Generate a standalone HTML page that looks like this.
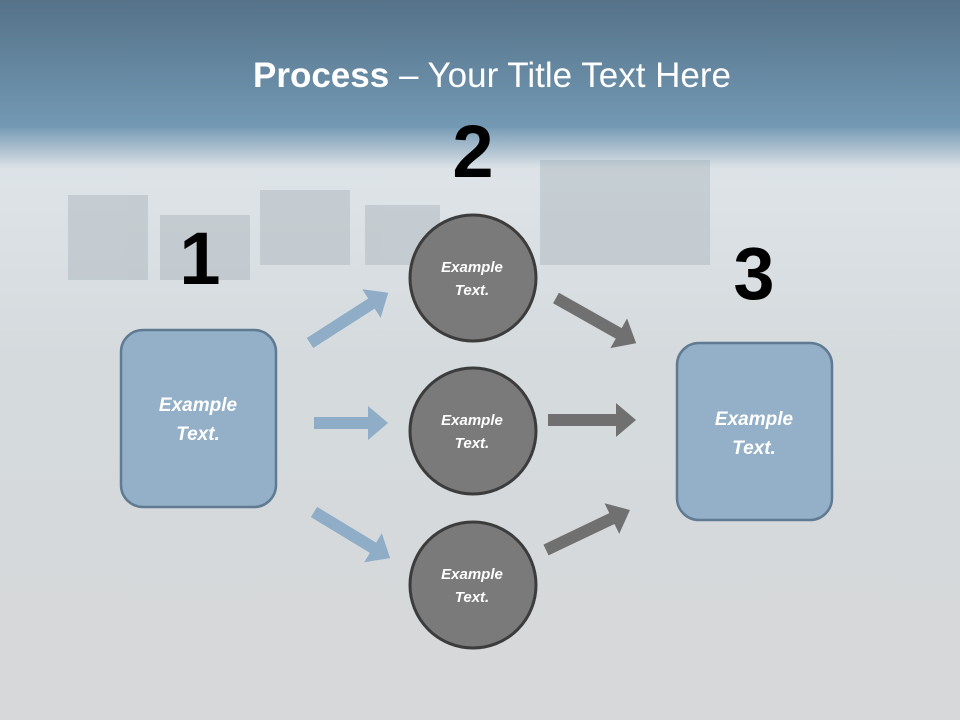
<!DOCTYPE html>
<html><head><meta charset="utf-8"><style>
html,body{margin:0;padding:0;}
body{width:960px;height:720px;overflow:hidden;font-family:"Liberation Sans",sans-serif;}
</style></head><body>
<svg width="960" height="720" viewBox="0 0 960 720" xmlns="http://www.w3.org/2000/svg">
<defs>
<linearGradient id="hdr" x1="0" y1="0" x2="0" y2="1">
<stop offset="0" stop-color="#557289"/><stop offset="1" stop-color="#7399b4"/></linearGradient>
<linearGradient id="fade" x1="0" y1="0" x2="0" y2="1">
<stop offset="0" stop-color="#7a9db7"/><stop offset="1" stop-color="#7a9db7" stop-opacity="0"/></linearGradient>
<linearGradient id="bg" x1="0" y1="0" x2="0" y2="1">
<stop offset="0" stop-color="#c5d3dd"/><stop offset="0.25" stop-color="#dde3e7"/><stop offset="0.5" stop-color="#d5dadd"/><stop offset="1" stop-color="#d6d8d9"/></linearGradient>
</defs>
<rect width="960" height="720" fill="url(#bg)"/>
<g fill="#a9b3ba" opacity="0.45">
<rect x="68" y="195" width="80" height="85"/>
<rect x="160" y="215" width="90" height="65"/>
<rect x="260" y="190" width="90" height="75"/>
<rect x="365" y="205" width="75" height="60"/>
<rect x="540" y="160" width="170" height="105"/>
</g>
<rect width="960" height="128" fill="url(#hdr)"/>
<rect y="128" width="960" height="40" fill="url(#fade)"/>
<text x="492" y="87" text-anchor="middle" fill="#fff" font-size="35"><tspan font-weight="bold">Process</tspan> – Your Title Text Here</text>

<g fill="#8fadc6">
<polygon transform="translate(310,343) rotate(-32.7)" points="0,-6 73,-6 73,-17 93,0 73,17 73,6 0,6"/>
<polygon transform="translate(314,423)" points="0,-6 54,-6 54,-17 74,0 54,17 54,6 0,6"/>
<polygon transform="translate(314,512) rotate(31.2)" points="0,-6 69,-6 69,-17 89,0 69,17 69,6 0,6"/>
</g>
<g fill="#707070">
<polygon transform="translate(556,298) rotate(29.4)" points="0,-6 72,-6 72,-17 92,0 72,17 72,6 0,6"/>
<polygon transform="translate(548,420)" points="0,-6 68,-6 68,-17 88,0 68,17 68,6 0,6"/>
<polygon transform="translate(546,550) rotate(-25.5)" points="0,-6 73,-6 73,-17 93,0 73,17 73,6 0,6"/>
</g>

<rect x="121" y="330" width="155" height="177" rx="22" fill="#93b0c8" stroke="#5f7a91" stroke-width="2.5"/>
<rect x="677" y="343" width="155" height="177" rx="22" fill="#93b0c8" stroke="#5f7a91" stroke-width="2.5"/>
<g fill="#fff" font-style="italic" font-weight="bold" font-size="19" text-anchor="middle">
<text x="198" y="411">Example</text><text x="198" y="440">Text.</text>
<text x="754" y="425">Example</text><text x="754" y="454">Text.</text>
</g>

<g fill="#7a7a7a" stroke="#3c3c3c" stroke-width="3">
<circle cx="473" cy="278" r="63"/>
<circle cx="473" cy="431" r="63"/>
<circle cx="473" cy="585" r="63"/>
</g>
<g fill="#fff" font-style="italic" font-weight="bold" font-size="15" text-anchor="middle">
<text x="472" y="272">Example</text><text x="472" y="295">Text.</text>
<text x="472" y="425">Example</text><text x="472" y="448">Text.</text>
<text x="472" y="579">Example</text><text x="472" y="602">Text.</text>
</g>

<g fill="#000" font-weight="bold" font-size="74" text-anchor="middle">
<text x="200" y="284">1</text>
<text x="473" y="177">2</text>
<text x="754" y="299">3</text>
</g>
</svg>
</body></html>
